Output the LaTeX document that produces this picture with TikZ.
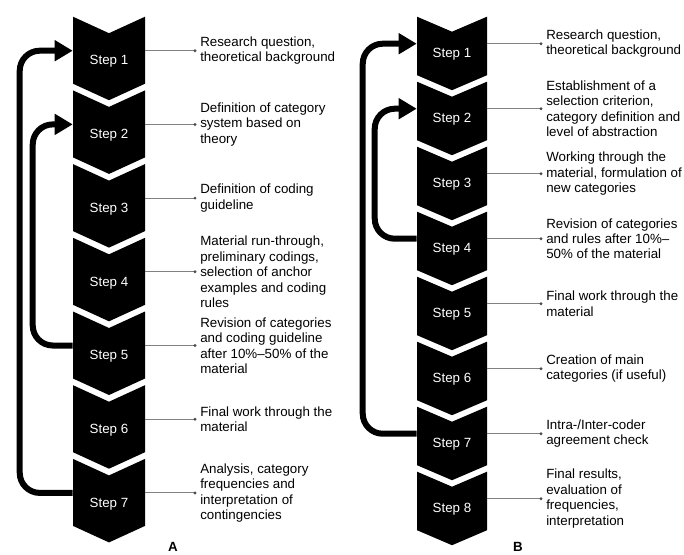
\documentclass[tikz,border=0pt]{standalone}
\usepackage{fontspec}
\setmainfont{Liberation Sans}
\usetikzlibrary{arrows.meta}

\begin{document}
\begin{tikzpicture}[x=0.75pt,y=-0.75pt,
	step node/.style={text=white,font=\fontsize{10}{12}\selectfont,inner sep=0pt},
	text node/.style={anchor=west,align=left,font=\fontsize{10}{11.6}\selectfont,inner ysep=0pt,inner xsep=3.75pt},
	pin line/.style={draw=black!50,line width=0.7pt},
	loop arrow/.style={line width=4.5pt,rounded corners=15pt,-{Triangle[length=13.5pt,width=15pt]}}]

\useasboundingbox (0,0) rectangle (684,554);

% column A
\foreach \i in {1,...,7}{
	\pgfmathsetmacro{\T}{16.7+(\i-1)*73.7}
	\fill (73,\T) -- (109,\T+16.5) -- (145,\T) -- (145,\T+67) -- (109,\T+83.5) -- (73,\T+67) -- cycle;
	\node[step node,minimum width=54pt] (a\i) at (109,\T+45) {Step \i};
}

\node[text node] (ta1) at (195,50.7) {Research question,\\theoretical background};
\node[text node] (ta2) at (195,124.4) {Definition of category\\system based on\\theory};
\node[text node] (ta3) at (195,198.1) {Definition of coding\\guideline};
\node[text node] (ta4) at (195,271.8) {Material run-through,\\preliminary codings,\\selection of anchor\\examples and coding\\rules};
\node[text node] (ta5) at (195,345.5) {Revision of categories\\and coding guideline\\after 10\%–50\% of the\\material};
\node[text node] (ta6) at (195,419.2) {Final work through the\\material};
\node[text node] (ta7) at (195,492.9) {Analysis, category\\frequencies and\\interpretation of\\contingencies};

\node[font=\fontsize{10}{12}\selectfont\bfseries] (titleA) at (173,547) {A};

% column B
\foreach \i in {1,...,8}{
	\pgfmathsetmacro{\T}{16.7+(\i-1)*65}
	\fill (417,\T) -- (452,\T+15) -- (487,\T) -- (487,\T+58.5) -- (452,\T+73.5) -- (417,\T+58.5) -- cycle;
	\node[step node,minimum width=52.5pt] (b\i) at (452,\T+38) {Step \i};
}

\node[text node] (tb1) at (541,43.7) {Research question,\\theoretical background};
\node[text node] (tb2) at (541,108.7) {Establishment of a\\selection criterion,\\category definition and\\level of abstraction};
\node[text node] (tb3) at (541,173.7) {Working through the\\material, formulation of\\new categories};
\node[text node] (tb4) at (541,238.7) {Revision of categories\\and rules after 10\%–\\50\% of the material};
\node[text node] (tb5) at (541,303.7) {Final work through the\\material};
\node[text node] (tb6) at (541,368.7) {Creation of main\\categories (if useful)};
\node[text node] (tb7) at (541,433.7) {Intra-/Inter-coder\\agreement check};
\node[text node] (tb8) at (541,498.7) {Final results,\\evaluation of\\frequencies,\\interpretation};

\node[font=\fontsize{10}{12}\selectfont\bfseries] (titleB) at (518,547) {B};

% pins
\foreach \s/\t in {a1/ta1,a2/ta2,a3/ta3,a4/ta4,a5/ta5,a6/ta6,a7/ta7,
	b1/tb1,b2/tb2,b3/tb3,b4/tb4,b5/tb5,b6/tb6,b7/tb7,b8/tb8}{
	\draw[pin line] (\s.east |- \t.west) -- (\t.west);
	\fill[black!70] (\t.west) circle (1.2pt);
}

% feedback loops
\draw[loop arrow] (a7.west |- ta7.west) -- ++(-53,0) |- (a1.west |- ta1.west);
\draw[loop arrow] (a5.west |- ta5.west) -- ++(-40,0) |- (a2.west |- ta2.west);
\draw[loop arrow] (b7.west |- tb7.west) -- ++(-54,0) |- (b1.west |- tb1.west);
\draw[loop arrow] (b4.west |- tb4.west) -- ++(-42,0) |- (b2.west |- tb2.west);

\end{tikzpicture}
\end{document}
